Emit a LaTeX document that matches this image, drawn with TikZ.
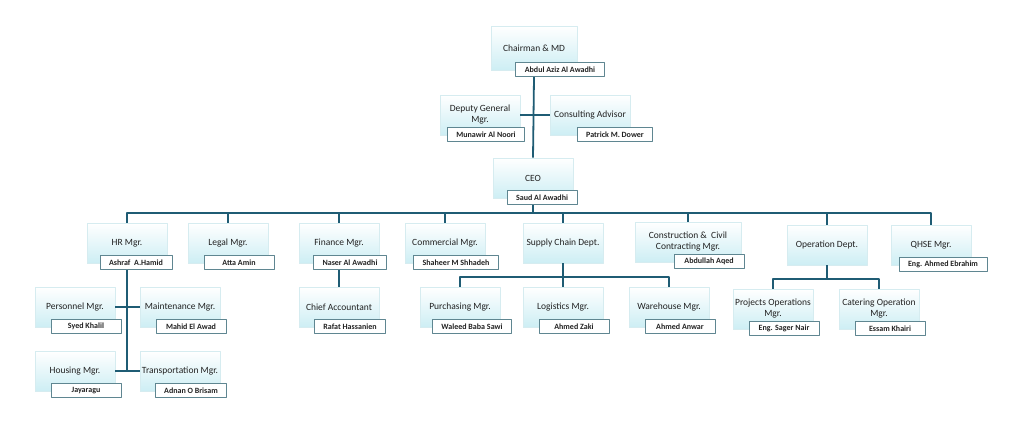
\documentclass[tikz,border=0pt]{standalone}
\usepackage{fontspec}
\setmainfont{Carlito}
\definecolor{orgline}{HTML}{1F5C74}
\definecolor{boxbot}{HTML}{CDEEF4}
\definecolor{boxrim}{HTML}{D6ECF0}
\definecolor{namerim}{HTML}{5F8691}
\definecolor{inktext}{HTML}{222222}
\newcommand\who[3][11]{\node[namebox] (#2n) at ([xshift=#1pt,yshift=8pt]#2.south) {#3};}
\begin{document}
\begin{tikzpicture}[x=1pt,y=-1pt,line join=round,
	titlebox/.style={draw=boxrim,line width=0.6pt,top color=white,bottom color=boxbot,minimum width=80pt,minimum height=40pt,inner sep=1pt,align=center,text=inktext,font=\fontsize{9.5}{11}\selectfont},
	namebox/.style={draw=namerim,line width=0.8pt,fill=white,anchor=north,minimum width=70pt,minimum height=14pt,inner xsep=9pt,inner ysep=1pt,text=inktext,font=\fontsize{8}{9}\selectfont\bfseries},
	link/.style={draw=orgline,line width=1.8pt}]
	\useasboundingbox[fill=white] (0,0) rectangle (1024,447);
	% top of the chart
	\node[titlebox,minimum width=86pt,minimum height=44pt] (chair) at (534,48) {Chairman \& MD};
	\node[titlebox] (dgm) at (480,115) {Deputy General\\Mgr.};
	\node[titlebox] (ca) at (590,115) {Consulting Advisor};
	\node[titlebox] (ceo) at (533,178) {CEO};
	% departments
	\node[titlebox] (hr) at (127,243) {HR Mgr.};
	\node[titlebox] (legal) at (228,243) {Legal Mgr.};
	\node[titlebox] (fin) at (339,243) {Finance Mgr.};
	\node[titlebox] (com) at (445,243) {Commercial Mgr.};
	\node[titlebox] (sc) at (563,243) {Supply Chain Dept.};
	\node[titlebox,minimum width=106pt] (ccm) at (688,242) {Construction \&\ \ Civil\\Contracting Mgr.};
	\node[titlebox] (op) at (827,245) {Operation Dept.};
	\node[titlebox] (qhse) at (931,245) {QHSE Mgr.};
	% sections
	\node[titlebox] (pers) at (75,307) {Personnel Mgr.};
	\node[titlebox] (maint) at (180,307) {Maintenance Mgr.};
	\node[titlebox] (hous) at (75,371) {Housing Mgr.};
	\node[titlebox] (trans) at (180,371) {Transportation Mgr.};
	\node[titlebox] (chief) at (339,307) {Chief Accountant};
	\node[titlebox] (purch) at (460,307) {Purchasing Mgr.};
	\node[titlebox] (log) at (563,307) {Logistics Mgr.};
	\node[titlebox] (ware) at (669,307) {Warehouse Mgr.};
	\node[titlebox] (proj) at (773,309) {Projects Operations\\Mgr.};
	\node[titlebox] (cat) at (879,309) {Catering Operation\\Mgr.};
	% names
	\who[26]{chair}{Abdul Aziz Al Awadhi}
	\who[6]{dgm}{Munawir Al Noori}
	\who[25]{ca}{Patrick M. Dower}
	\who[9]{ceo}{Saud Al Awadhi}
	\who[9]{hr}{Ashraf\ \ A.Hamid}
	\who{legal}{Atta Amin}
	\who{fin}{Naser Al Awadhi}
	\who{com}{Shaheer M Shhadeh}
	\who[21]{ccm}{Abdullah Aqed}
	\who[12]{qhse}{Eng. Ahmed Ebrahim}
	\who{pers}{Syed Khalil}
	\who{maint}{Mahid El Awad}
	\who{hous}{Jayaragu}
	\who{trans}{Adnan O Brisam}
	\who{chief}{Rafat Hassanien}
	\who[12]{purch}{Waleed Baba Sawi}
	\who{log}{Ahmed Zaki}
	\who{ware}{Ahmed Anwar}
	\who{proj}{Eng. Sager Nair}
	\who{cat}{Essam Khairi}
	% connectors
	\coordinate (bus) at (533,213);
	\coordinate (scbus) at (563,277);
	\coordinate (opbus) at (827,279);
	\draw[link] (chair |- chairn.south) -- (ceo.north);
	\draw[link] (dgm.east) -- (ca.west);
	\draw[link] (ceo |- ceon.south) -- (bus);
	\draw[link] (hr.north) |- (bus) -| (qhse.north);
	\foreach \d in {legal,fin,com,sc,ccm,op}
		\draw[link] (\d.north) -- (\d |- bus);
	\draw[link] (hr |- hrn.south) -- (hr |- hous.east);
	\draw[link] (pers.east) -- (maint.west);
	\draw[link] (hous.east) -- (trans.west);
	\draw[link] (fin |- finn.south) -- (chief.north);
	\draw[link] (sc.south) -- (log.north);
	\draw[link] (purch.north) |- (scbus) -| (ware.north);
	\draw[link] (op.south) -- (opbus);
	\draw[link] (proj.north) |- (opbus) -| (cat.north);
\end{tikzpicture}
\end{document}
